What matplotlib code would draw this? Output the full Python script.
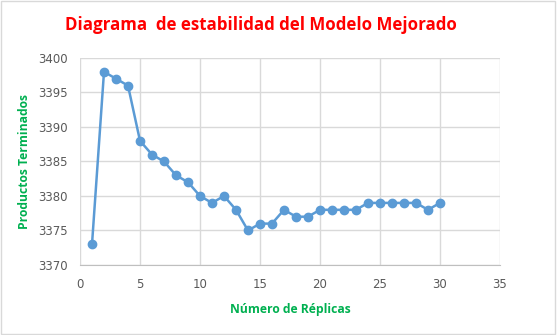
import matplotlib.pyplot as plt
from matplotlib.patches import Rectangle

replicas = list(range(1, 31))
productos = [3373, 3398, 3397, 3396, 3388, 3386, 3385, 3383, 3382, 3380,
             3379, 3380, 3378, 3375, 3376, 3376, 3378, 3377, 3377, 3378,
             3378, 3378, 3378, 3379, 3379, 3379, 3379, 3379, 3378, 3379]

fig = plt.figure(figsize=(5.57, 3.35), dpi=100)
ax = fig.add_axes([80 / 557, 1 - 265 / 335, 420 / 557, 207 / 335])

ax.plot(replicas, productos, color='#5B9BD5', lw=1.8, marker='o',
        markersize=6, zorder=3)

ax.set_xlim(0, 35)
ax.set_ylim(3370, 3400)
ax.set_xticks(range(0, 36, 5))
ax.set_yticks(range(3370, 3401, 5))
ax.grid(color='#D9D9D9', lw=1)
ax.set_axisbelow(True)
for s in ['top', 'right', 'left']:
    ax.spines[s].set_visible(False)
ax.spines['bottom'].set_color('#BFBFBF')
ax.tick_params(length=0, labelsize=8.5, colors='#595959')
ax.tick_params(axis='y', pad=9)
ax.tick_params(axis='x', pad=9)

fnt = ['Open Sans', 'DejaVu Sans']
ax.set_xlabel('Número de Réplicas', color='#00B050', fontweight='bold',
              fontsize=8.7, family=fnt, labelpad=9)
ax.set_ylabel('Productos Terminados', color='#00B050', fontweight='bold',
              fontsize=8.7, family=fnt, labelpad=5)
fig.text(0.469, 0.925, 'Diagrama  de estabilidad del Modelo Mejorado',
         color='#FF0000', fontweight='bold', fontsize=12.2, family=fnt,
         ha='center', va='center')

fig.patches.append(Rectangle((0.002, 0.003), 0.995, 0.994, transform=fig.transFigure,
                             fill=False, edgecolor='#D9D9D9', lw=1))

fig.savefig('out.png')
